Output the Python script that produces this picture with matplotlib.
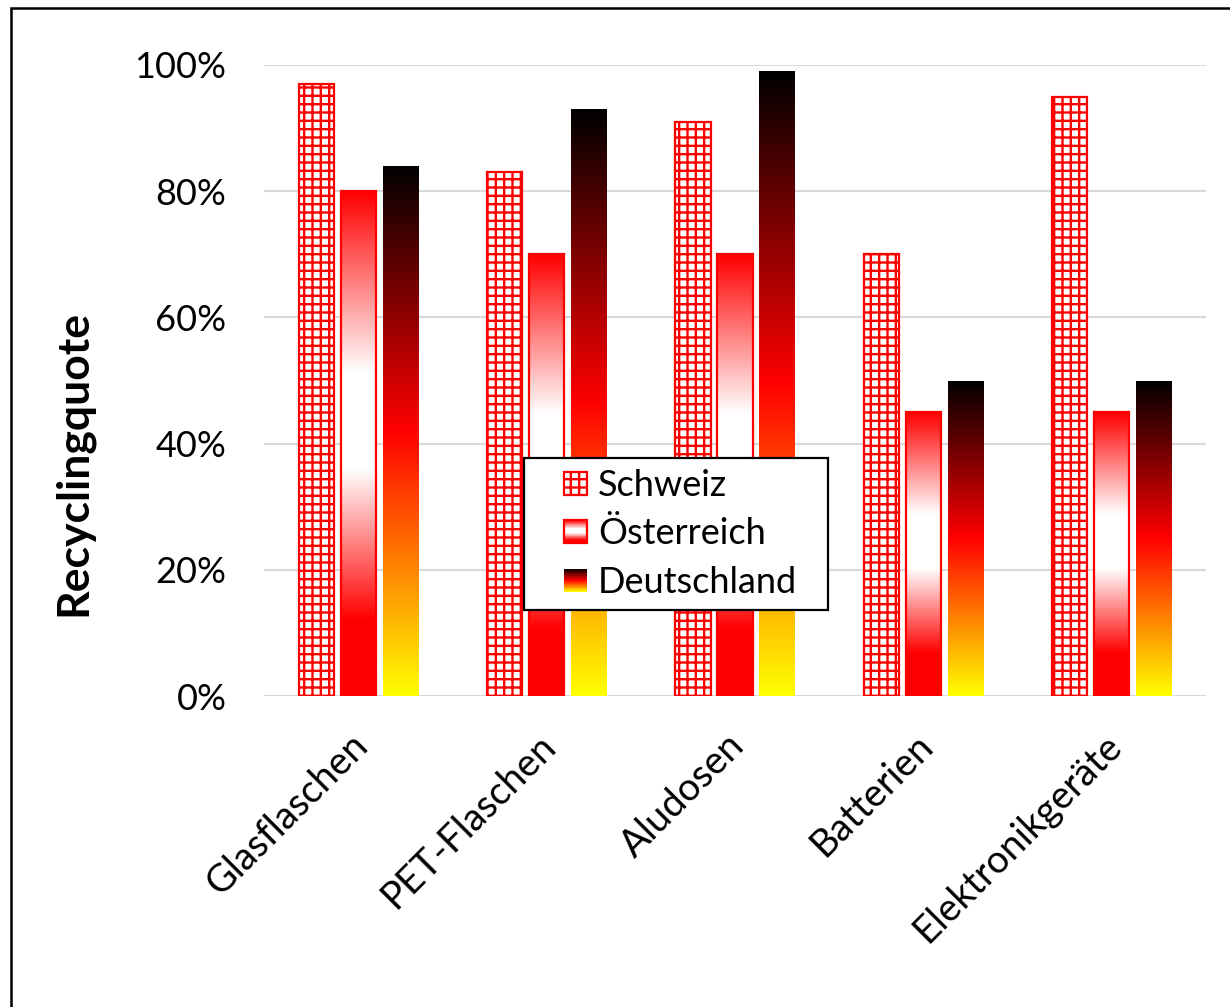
import numpy as np
import matplotlib
matplotlib.use("Agg")
import matplotlib.pyplot as plt
from matplotlib.colors import LinearSegmentedColormap
from matplotlib.patches import Rectangle
from matplotlib.legend_handler import HandlerBase
from matplotlib.ticker import PercentFormatter
from matplotlib.transforms import ScaledTranslation

plt.rcParams["font.family"] = ["Lato", "DejaVu Sans"]
plt.rcParams["hatch.linewidth"] = 1.7

# Recycling rates (share, 0..1)
categories = ["Glasflaschen", "PET-Flaschen", "Aludosen", "Batterien", "Elektronikgeräte"]
countries = ["Schweiz", "Österreich", "Deutschland"]
schweiz = [0.97, 0.83, 0.91, 0.70, 0.95]
oesterreich = [0.80, 0.70, 0.70, 0.45, 0.45]
deutschland = [0.84, 0.93, 0.99, 0.50, 0.50]
yticks = [0.0, 0.2, 0.4, 0.6, 0.8, 1.0]

RED = "#ff0000"
# colour ramps, bottom of bar -> top of bar
cmap_at = LinearSegmentedColormap.from_list(
    "at", [(0.0, RED), (0.15, RED), (0.45, "#ffffff"), (0.64, "#ffffff"), (1.0, RED)])
cmap_de = LinearSegmentedColormap.from_list(
    "de", [(0.0, "#ffff00"), (0.5, RED), (1.0, "#000000")])

W, H, DPI = 1230, 1007, 100
fig = plt.figure(figsize=(W / DPI, H / DPI), dpi=DPI)
ax = fig.add_axes([264 / W, 1 - 696 / H, (1206 - 264) / W, (696 - 65) / H])

x = np.arange(len(categories))
bw = 0.186
off = 0.223

# Schweiz: red grid hatch on white
ax.bar(x - off, schweiz, bw, facecolor="white", edgecolor=RED, hatch="++",
       linewidth=1.6, zorder=3)

grad = np.linspace(0, 1, 256).reshape(-1, 1)


def gradient_bars(xpos, values, cmap, edge):
    bars = ax.bar(xpos, values, bw, facecolor="none",
                  edgecolor=edge if edge else "none", linewidth=1.6, zorder=4)
    for b in bars:
        x0, w, h = b.get_x(), b.get_width(), b.get_height()
        im = ax.imshow(grad, extent=[x0, x0 + w, 0, h], origin="lower",
                       aspect="auto", cmap=cmap, zorder=3, interpolation="bilinear")
        im.set_clip_path(b)
    return bars


gradient_bars(x, oesterreich, cmap_at, RED)
gradient_bars(x + off, deutschland, cmap_de, None)

ax.set_xlim(-0.5, len(categories) - 0.5)
ax.set_ylim(0, 1)
ax.set_yticks(yticks)
ax.yaxis.set_major_formatter(PercentFormatter(1.0, decimals=0))
ax.grid(axis="y", color="#d9d9d9", linewidth=1.5, zorder=0)
ax.set_axisbelow(True)
for s in ax.spines.values():
    s.set_visible(False)
ax.tick_params(axis="y", length=0, pad=27, labelsize=26)
ax.set_xticks(x, [""] * len(categories))
ax.tick_params(axis="x", length=0)

# rotated category names, anchored just below each group
lbl_trans = ax.get_xaxis_transform() + ScaledTranslation(-9 / DPI, -31 / DPI, fig.dpi_scale_trans)
for xi, name in zip(x, categories):
    ax.text(xi, 0, name, transform=lbl_trans, rotation=45, ha="right", va="top",
            rotation_mode="anchor", fontsize=27.5)

fig.text(73 / W, 1 - 463 / H, "Recyclingquote", rotation=90, ha="center",
         va="center", fontsize=32, fontweight="bold")


class SwatchHandler(HandlerBase):
    def __init__(self, kind):
        super().__init__()
        self.kind = kind

    def create_artists(self, legend, orig_handle, xdescent, ydescent, width,
                       height, fontsize, trans):
        side = 23 / DPI * 72
        x0 = -xdescent + width - side
        y0 = -ydescent + (height - side) / 2
        arts = []
        if self.kind == "ch":
            arts.append(Rectangle((x0, y0), side, side, facecolor="white",
                                  edgecolor=RED, hatch="++", linewidth=1.6,
                                  transform=trans))
        else:
            cm = cmap_at if self.kind == "at" else cmap_de
            n = 40
            for i in range(n):
                arts.append(Rectangle((x0, y0 + i * side / n), side, side / n + 0.05,
                                      facecolor=cm((i + 0.5) / n), edgecolor="none",
                                      transform=trans))
            if self.kind == "at":
                arts.append(Rectangle((x0, y0), side, side, facecolor="none",
                                      edgecolor=RED, linewidth=1.6, transform=trans))
        return arts


proxies = [Rectangle((0, 0), 1, 1) for _ in countries]
leg = fig.legend(
    proxies, countries,
    handler_map={proxies[0]: SwatchHandler("ch"), proxies[1]: SwatchHandler("at"),
                 proxies[2]: SwatchHandler("de")},
    loc="upper left", bbox_to_anchor=(524 / W, 1 - 458 / H, (828 - 524) / W, 0),
    mode="expand", fontsize=26, handlelength=1.45, handleheight=0.7,
    handletextpad=0.3, borderpad=0.3, labelspacing=0.43, borderaxespad=0,
    fancybox=False, framealpha=1, edgecolor="black")
leg.get_frame().set_linewidth(1.6)

# outer frame of the graphic
fig.add_artist(Rectangle((10.5 / W, -0.05), 1.2, 1 - 8 / H + 0.05, transform=fig.transFigure,
                         facecolor="none", edgecolor="black", linewidth=1.8))

fig.savefig("out.png", dpi=DPI)
